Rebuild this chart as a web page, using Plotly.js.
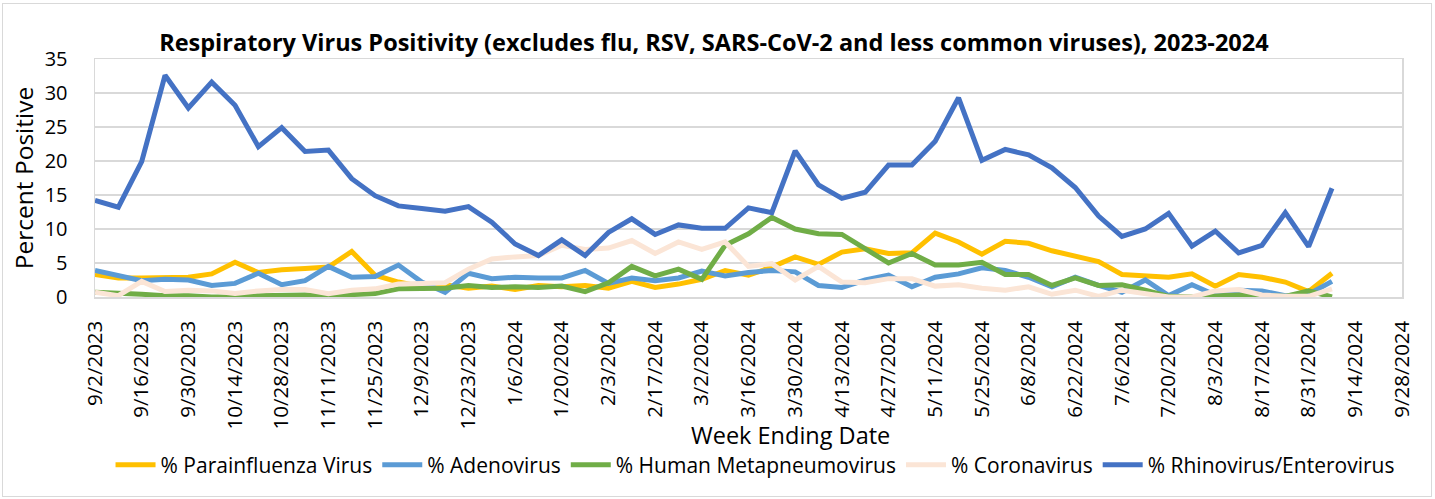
<!DOCTYPE html>
<html>
<head>
<meta charset="utf-8">
<script src="https://cdn.plot.ly/plotly-3.0.1.min.js"></script>
<style>
  html, body { margin: 0; padding: 0; background: #fff; }
  #wrap { position: relative; width: 1435px; height: 499px; }
  #chart { width: 1435px; height: 499px; }
  #frame { position: absolute; left: 2px; top: 3px; width: 1428px; height: 492px; border: 1px solid #d9d9d9; pointer-events: none; }
</style>
</head>
<body>
<div id="wrap"><div id="chart"></div><div id="frame"></div></div>
<script>
// Week ending dates (category axis)
const weeks = [
  "9/2/2023","9/9/2023","9/16/2023","9/23/2023","9/30/2023","10/7/2023","10/14/2023","10/21/2023",
  "10/28/2023","11/4/2023","11/11/2023","11/18/2023","11/25/2023","12/2/2023","12/9/2023","12/16/2023",
  "12/23/2023","12/30/2023","1/6/2024","1/13/2024","1/20/2024","1/27/2024","2/3/2024","2/10/2024",
  "2/17/2024","2/24/2024","3/2/2024","3/9/2024","3/16/2024","3/23/2024","3/30/2024","4/6/2024",
  "4/13/2024","4/20/2024","4/27/2024","5/4/2024","5/11/2024","5/18/2024","5/25/2024","6/1/2024",
  "6/8/2024","6/15/2024","6/22/2024","6/29/2024","7/6/2024","7/13/2024","7/20/2024","7/27/2024",
  "8/3/2024","8/10/2024","8/17/2024","8/24/2024","8/31/2024","9/7/2024","9/14/2024","9/21/2024",
  "9/28/2024"
];
const tickLabels = [
  "9/2/2023","9/16/2023","9/30/2023","10/14/2023","10/28/2023","11/11/2023","11/25/2023","12/9/2023",
  "12/23/2023","1/6/2024","1/20/2024","2/3/2024","2/17/2024","3/2/2024","3/16/2024","3/30/2024",
  "4/13/2024","4/27/2024","5/11/2024","5/25/2024","6/8/2024","6/22/2024","7/6/2024","7/20/2024",
  "8/3/2024","8/17/2024","8/31/2024","9/14/2024","9/28/2024"
];
const yTicks = [0, 5, 10, 15, 20, 25, 30, 35];

const parainfluenza = [3.3,2.8,2.8,2.8,2.9,3.4,5.1,3.6,4.0,4.2,4.4,6.7,3.2,2.2,1.5,1.8,1.3,1.6,1.1,1.7,
  1.5,1.7,1.3,2.3,1.4,1.9,2.6,3.9,3.2,4.4,5.9,4.8,6.6,7.1,6.4,6.5,9.4,8.1,6.3,8.2,
  7.9,6.8,6.0,5.2,3.3,3.1,2.9,3.4,1.6,3.3,2.9,2.2,0.8,3.5];
const adenovirus = [3.9,3.2,2.4,2.6,2.5,1.7,2.0,3.5,1.8,2.4,4.5,2.9,3.0,4.7,2.2,0.7,3.5,2.7,2.9,2.8,
  2.8,3.9,2.0,2.8,2.4,2.8,3.8,3.1,3.6,3.9,3.7,1.7,1.4,2.5,3.2,1.5,2.9,3.4,4.3,3.9,
  2.9,1.5,2.9,1.7,0.7,2.5,0.2,1.8,0.3,1.0,0.9,0.2,0.4,2.3];
const metapneumovirus = [0.7,0.6,0.4,0.2,0.2,0.0,0.0,0.2,0.3,0.3,0.2,0.4,0.5,1.2,1.3,1.3,1.7,1.4,1.5,1.4,
  1.6,0.8,2.1,4.5,3.1,4.1,2.6,7.6,9.3,11.7,10.0,9.3,9.2,7.1,5.0,6.4,4.7,4.7,5.1,3.3,
  3.3,1.7,2.8,1.7,1.8,1.0,0.1,0.0,0.1,0.3,0.2,0.1,0.9,0.0];
const coronavirus = [0.7,0.2,2.3,0.8,1.0,0.9,0.5,0.9,1.1,1.1,0.5,1.0,1.2,1.9,2.0,2.1,4.1,5.6,5.9,6.1,
  7.6,7.0,7.2,8.3,6.4,8.1,7.0,8.1,4.5,4.9,2.5,4.5,2.2,2.1,2.7,2.7,1.6,1.8,1.3,1.0,
  1.5,0.4,1.0,0.1,1.0,0.5,0.0,0.0,0.9,1.1,0.3,0.1,0.1,1.2];
const rhinovirus = [14.2,13.2,19.9,32.6,27.8,31.6,28.2,22.1,24.9,21.4,21.6,17.4,14.9,13.4,13.0,12.6,13.3,11.0,7.8,6.1,
  8.4,6.1,9.5,11.5,9.2,10.6,10.1,10.1,13.1,12.4,21.5,16.5,14.5,15.4,19.4,19.4,22.9,29.3,20.1,21.7,
  20.9,19.0,16.1,11.9,8.9,10.0,12.3,7.5,9.7,6.5,7.6,12.4,7.4,16.0];

const seriesNames = ["% Parainfluenza Virus","% Adenovirus","% Human Metapneumovirus","% Coronavirus","% Rhinovirus/Enterovirus"];
const seriesColors = ["#FFC000","#5B9BD5","#70AD47","#FBE5D6","#4472C4"];
const seriesData = [parainfluenza, adenovirus, metapneumovirus, coronavirus, rhinovirus];

const FONT = "'Open Sans', 'Noto Sans', sans-serif";

const traces = seriesData.map((vals, k) => ({
  type: "scatter",
  mode: "lines",
  name: seriesNames[k],
  x: weeks.slice(0, vals.length),
  y: vals,
  line: { color: seriesColors[k], width: 5, shape: "linear" },
  hoverinfo: "x+y+name"
}));

const layout = {
  width: 1435,
  height: 499,
  paper_bgcolor: "#ffffff",
  plot_bgcolor: "#ffffff",
  margin: { l: 95, r: 33, t: 59, b: 202 },
  font: { family: FONT, color: "#000000" },
  title: {
    text: "<b>Respiratory Virus Positivity (excludes flu, RSV, SARS-CoV-2 and less common viruses), 2023-2024</b>",
    font: { family: FONT, size: 23.5, color: "#000000" },
    x: 0.4975, xanchor: "center", xref: "container",
    y: 0.914, yref: "container", yanchor: "middle"
  },
  xaxis: {
    type: "category",
    categoryorder: "array",
    categoryarray: weeks,
    range: [0, weeks.length - 1],
    tickmode: "array",
    tickvals: tickLabels,
    ticktext: tickLabels,
    tickangle: -90,
    tickfont: { family: FONT, size: 20.5, color: "#000000" },
    ticks: "",
    ticklabelstandoff: 14,
    showgrid: false,
    showline: true,
    linecolor: "#d9d9d9",
    linewidth: 1.5,
    mirror: true,
    zeroline: false
  },
  yaxis: {
    range: [0, 35],
    tickmode: "array",
    tickvals: yTicks,
    tickfont: { family: FONT, size: 20, color: "#000000" },
    ticks: "",
    ticklabelstandoff: 22,
    showgrid: true,
    gridcolor: "#d9d9d9",
    gridwidth: 1.5,
    showline: true,
    linecolor: "#d9d9d9",
    linewidth: 1.5,
    mirror: true,
    zeroline: false,
    title: { text: "Percent Positive", font: { family: FONT, size: 24.5, color: "#000000" }, standoff: 4 }
  },
  annotations: [{
    text: "Week Ending Date",
    xref: "paper", yref: "paper",
    x: 0.532, y: -0.58,
    xanchor: "center", yanchor: "middle",
    showarrow: false,
    font: { family: FONT, size: 23.5, color: "#000000" }
  }],
  showlegend: true,
  legend: {
    orientation: "h",
    x: 0.505, xanchor: "center",
    y: -0.706, yanchor: "middle",
    font: { family: FONT, size: 21, color: "#000000" },
    itemwidth: 40,
    tracegroupgap: 0,
    bgcolor: "rgba(0,0,0,0)"
  }
};

Plotly.newPlot("chart", traces, layout, { displayModeBar: false, staticPlot: true });
</script>
</body>
</html>
